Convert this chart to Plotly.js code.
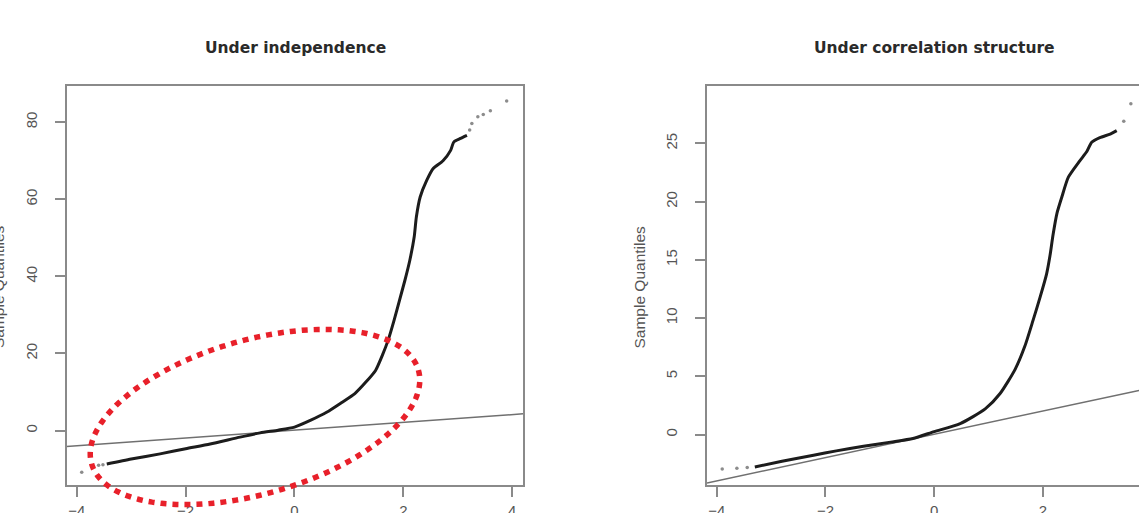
<!DOCTYPE html>
<html><head><meta charset="utf-8">
<script src="https://cdn.plot.ly/plotly-3.0.1.min.js"></script>
<style>html,body{margin:0;padding:0;background:#fff;overflow:hidden}</style>
</head><body><div id="chart" style="width:1139px;height:513px"></div>
<script>
// ---- data ----
const panelTitles = ["Under independence", "Under correlation structure"];
const yAxisLabel = "Sample Quantiles";
const xTickVals = [-4, -2, 0, 2, 4];
const yTickValsIndep = [0, 20, 40, 60, 80];
const yTickValsCorr = [0, 5, 10, 15, 20, 25];

// Under independence: dense part of the QQ curve
const indepX = [-3.45, -3.0, -2.47, -2.0, -1.55, -1.0, -0.63, -0.3, 0.0, 0.3, 0.59, 0.87, 1.11, 1.32, 1.49, 1.62, 1.72, 1.83, 1.93, 2.03, 2.12, 2.2, 2.24, 2.31, 2.43, 2.55, 2.73, 2.87, 2.93, 3.05, 3.17];
const indepY = [-8.7, -7.4, -6.05, -4.7, -3.5, -1.7, -0.6, 0.1, 0.9, 2.7, 4.75, 7.3, 9.6, 12.7, 15.6, 19.7, 23.4, 28.6, 33.8, 39.0, 44.2, 50.2, 55.4, 60.6, 64.9, 68.0, 70.0, 72.7, 74.9, 75.8, 76.6];
// Under independence: sparse tail points
const indepTailX = [-3.91, -3.72, -3.6, -3.52, 3.22, 3.26, 3.37, 3.47, 3.6, 3.9];
const indepTailY = [-10.8, -9.2, -9.0, -8.85, 78.0, 79.7, 81.4, 82.0, 83.0, 85.5];

// Under correlation structure: dense part
const corrX = [-3.3, -2.8, -2.22, -1.8, -1.3, -0.8, -0.39, 0.0, 0.48, 0.94, 1.21, 1.49, 1.67, 1.82, 1.95, 2.07, 2.13, 2.19, 2.26, 2.35, 2.47, 2.68, 2.81, 2.9, 3.05, 3.24, 3.36];
const corrY = [-2.78, -2.3, -1.78, -1.4, -1.0, -0.65, -0.34, 0.25, 0.94, 2.2, 3.5, 5.6, 7.6, 9.8, 11.8, 13.8, 15.3, 17.2, 19.0, 20.4, 22.1, 23.5, 24.3, 25.1, 25.5, 25.8, 26.1];
const corrTailX = [-3.9, -3.63, -3.44, 3.49, 3.62];
const corrTailY = [-2.95, -2.9, -2.84, 26.9, 28.4];

// qqline parameters (intercept, slope) per panel
const qqIntercept = [0.1, 0.02];
const qqSlope = [1.01, 1.0];

// ---- layout geometry (pixels) ----
const W = 1139, H = 513;
const px = x => x / W;
const py = y => 1 - y / H;

const xRange1 = [-4.19, 4.2], yRange1 = [-14.0, 89.4];
const xRange2 = [-4.18, 3.77], yRange2 = [-4.29, 29.93];

const axisCommon = {
  showgrid: false, zeroline: false, showline: true, linecolor: '#8a8a8a', linewidth: 2,
  ticks: 'outside', ticklen: 10, tickwidth: 2, tickcolor: '#8a8a8a',
  tickfont: {family: 'Liberation Sans, Arial, sans-serif', size: 15, color: '#555'},
  fixedrange: true
};

const curveStyle = {color: '#1c1c1c', width: 3, shape: 'spline', smoothing: 0.6};
const tailStyle = {size: 3.5, color: '#8c8c8c'};

const traces = [
  {x: indepX, y: indepY, xaxis: 'x', yaxis: 'y', mode: 'lines', line: curveStyle, hoverinfo: 'skip'},
  {x: indepTailX, y: indepTailY, xaxis: 'x', yaxis: 'y', mode: 'markers', marker: tailStyle, hoverinfo: 'skip'},
  {x: corrX, y: corrY, xaxis: 'x2', yaxis: 'y2', mode: 'lines', line: curveStyle, hoverinfo: 'skip'},
  {x: corrTailX, y: corrTailY, xaxis: 'x2', yaxis: 'y2', mode: 'markers', marker: tailStyle, hoverinfo: 'skip'}
];

// qq reference lines across each panel
const shapes = [];
[[xRange1, 'x', 'y', 0], [xRange2, 'x2', 'y2', 1]].forEach(([xr, xa, ya, i]) => {
  shapes.push({type: 'line', xref: xa, yref: ya, layer: 'below',
    x0: xr[0], x1: xr[1],
    y0: qqIntercept[i] + qqSlope[i] * xr[0], y1: qqIntercept[i] + qqSlope[i] * xr[1],
    line: {color: '#707070', width: 1.5}});
});

// red dotted highlight ellipse (pixel geometry)
(function () {
  const cx = 255, cy = 417, a = 170, b = 77, ang = 16 * Math.PI / 180;
  let d = '';
  const n = 180;
  for (let k = 0; k <= n; k++) {
    const t = 2 * Math.PI * k / n;
    const ex = a * Math.cos(t), ey = b * Math.sin(t);
    const X = cx + ex * Math.cos(ang) + ey * Math.sin(ang);
    const Y = cy - ex * Math.sin(ang) + ey * Math.cos(ang);
    d += (k === 0 ? 'M ' : ' L ') + px(X).toFixed(5) + ' ' + py(Y).toFixed(5);
  }
  shapes.push({type: 'path', xref: 'paper', yref: 'paper', path: d, layer: 'above',
    line: {color: '#e8202a', width: 5.5, dash: '6px,6px'}});
})();

const titleFont = {family: 'DejaVu Sans, sans-serif', size: 15.5, color: '#2a2a2a', weight: 'bold'};
const labFont = {family: 'Liberation Sans, Arial, sans-serif', size: 15.5, color: '#555'};

const annotations = [
  {text: panelTitles[0], xref: 'paper', yref: 'paper', x: px(295), y: py(48), xanchor: 'center', yanchor: 'middle', showarrow: false, font: titleFont},
  {text: panelTitles[1], xref: 'paper', yref: 'paper', x: px(934), y: py(48), xanchor: 'center', yanchor: 'middle', showarrow: false, font: titleFont},
  {text: yAxisLabel, xref: 'paper', yref: 'paper', x: px(-2), y: py(287), xanchor: 'center', yanchor: 'middle', textangle: -90, showarrow: false, font: labFont},
  {text: yAxisLabel, xref: 'paper', yref: 'paper', x: px(638.5), y: py(287), xanchor: 'center', yanchor: 'middle', textangle: -90, showarrow: false, font: labFont}
];

const layout = {
  width: W, height: H, margin: {l: 0, r: 0, t: 0, b: 0},
  paper_bgcolor: '#fff', plot_bgcolor: '#fff', showlegend: false,
  xaxis: Object.assign({}, axisCommon, {domain: [px(66.5), px(523)], range: xRange1, tickvals: xTickVals, mirror: true, anchor: 'y', ticklabelstandoff: 1}),
  yaxis: Object.assign({}, axisCommon, {domain: [py(484.5), py(86)], range: yRange1, tickvals: yTickValsIndep, tickangle: -90, mirror: true, anchor: 'x', ticklabelstandoff: 12}),
  xaxis2: Object.assign({}, axisCommon, {domain: [px(707), 1], range: xRange2, tickvals: xTickVals, mirror: true, anchor: 'y2', ticklabelstandoff: 1}),
  yaxis2: Object.assign({}, axisCommon, {domain: [py(484.5), py(86)], range: yRange2, tickvals: yTickValsCorr, tickangle: -90, mirror: false, anchor: 'x2', ticklabelstandoff: 12}),
  shapes: shapes,
  annotations: annotations
};

Plotly.newPlot('chart', traces, layout, {staticPlot: true, displayModeBar: false});
</script></body></html>
